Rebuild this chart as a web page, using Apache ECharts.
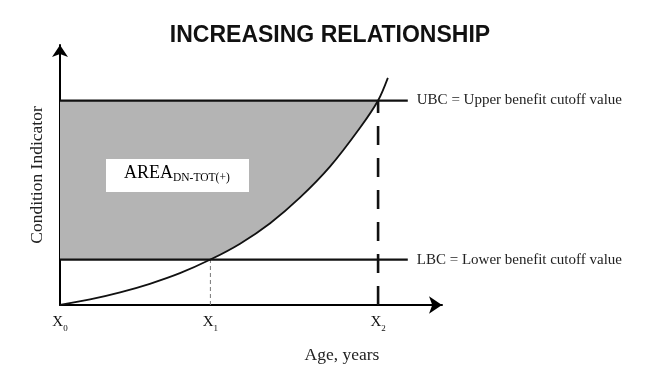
<!DOCTYPE html>
<html><head><meta charset="utf-8">
<script src="https://cdn.jsdelivr.net/npm/echarts@6/dist/echarts.min.js"></script>
<style>html,body{margin:0;padding:0;background:#fff}#c{width:646px;height:369px}</style>
</head><body><div id="c"></div>
<script>
// ---- data (arbitrary units) ----
var titleText = 'INCREASING RELATIONSHIP';
var xAxisName = 'Age, years';
var yAxisName = 'Condition Indicator';
var xTickValues = [0, 40, 84.6];
var xTickMain = ['X', 'X', 'X'];
var xTickSub = ['0', '1', '2'];
var curveX = [0, 8.0, 16.0, 23.9, 31.9, 40, 47.9, 55.9, 63.8, 71.8, 79.8, 84.6, 87.2];
var curveY = [0, 2.2, 5.0, 8.4, 12.6, 18, 24.3, 32.4, 42.5, 54.8, 70.2, 81, 90];
var UBC = 81, LBC = 18;
var cutoffLineEnd = 92.5;
var X1 = 40, X2 = 84.6;
var cutoffLabels = ['UBC = Upper benefit cutoff value', 'LBC = Lower benefit cutoff value'];
var areaMain = 'AREA', areaSub = 'DN-TOT(+)';

var serif = '"Liberation Serif","Times New Roman",serif';
var curve = curveX.map(function (x, i) { return [x, curveY[i]]; });

var chart = echarts.init(document.getElementById('c'));
chart.setOption({
  animation: false,
  backgroundColor: '#fff',
  title: [
    { text: titleText, left: 325, top: 19, textAlign: 'center',
      textStyle: { fontFamily: '"Liberation Sans",Arial,sans-serif', fontWeight: 'bold', fontSize: 23, color: '#111' } },
    { text: xAxisName, left: 337, top: 341, textAlign: 'center',
      textStyle: { fontFamily: serif, fontWeight: 'normal', fontSize: 17.5, color: '#222' } }
  ],
  grid: { left: 60, right: 204, top: 45, bottom: 64 },
  xAxis: {
    type: 'value', min: 0, max: 101.6,
    splitLine: { show: false },
    axisLine: { lineStyle: { color: '#000', width: 2 }, symbol: ['none', 'arrow'], symbolSize: [13, 13] },
    axisTick: { show: false },
    axisLabel: {
      customValues: xTickValues, margin: 7,
      formatter: function (v) {
        var i = xTickValues.indexOf(v);
        if (i < 0) return '';
        return '{m|' + xTickMain[i] + '}{s|' + xTickSub[i] + '}';
      },
      rich: {
        m: { fontFamily: serif, fontSize: 15, color: '#111' },
        s: { fontFamily: serif, fontSize: 9, color: '#111', padding: [12, 0, 0, 0] }
      }
    }
  },
  yAxis: {
    type: 'value', min: 0, max: 103,
    splitLine: { show: false },
    axisLine: { lineStyle: { color: '#000', width: 2 }, symbol: ['none', 'arrow'], symbolSize: [12, 12] },
    axisTick: { show: false },
    axisLabel: { show: false },
    name: yAxisName, nameLocation: 'middle', nameRotate: 90, nameGap: 14,
    nameTextStyle: { fontFamily: serif, fontSize: 17.5, color: '#222' }
  },
  series: [
    {
      type: 'custom', z: 1, silent: true,
      data: [[0, 0]],
      renderItem: function (params, api) {
        var pts = [api.coord([0, LBC]), api.coord([0, UBC]), api.coord([X2, UBC])];
        var mid = curve.filter(function (p) { return p[0] > X1 && p[0] < X2; }).reverse();
        mid.forEach(function (p) { pts.push(api.coord(p)); });
        pts.push(api.coord([X1, LBC]));
        return { type: 'polygon', shape: { points: pts }, style: { fill: '#b4b4b4', stroke: null } };
      }
    },
    {
      type: 'line', z: 3, data: [[0, UBC], [cutoffLineEnd, UBC]], symbol: 'none',
      lineStyle: { color: '#111', width: 2.2 },
      endLabel: { show: true, formatter: cutoffLabels[0], distance: 9, fontFamily: serif, fontSize: 15, color: '#222' }
    },
    {
      type: 'line', z: 3, data: [[0, LBC], [cutoffLineEnd, LBC]], symbol: 'none',
      lineStyle: { color: '#111', width: 2.2 },
      endLabel: { show: true, formatter: cutoffLabels[1], distance: 9, fontFamily: serif, fontSize: 15, color: '#222' }
    },
    {
      type: 'line', z: 4, data: curve, symbol: 'none', smooth: 0.3,
      lineStyle: { color: '#111', width: 1.8 }
    },
    {
      type: 'line', z: 2, data: [[X2, 0], [X2, UBC]], symbol: 'none',
      lineStyle: { color: '#111', width: 2.6, type: [19, 13] }
    },
    {
      type: 'line', z: 2, data: [[X1, 0], [X1, LBC]], symbol: 'none',
      lineStyle: { color: '#777', width: 1, type: [4, 3] }
    }
  ],
  graphic: [
    { type: 'rect', z: 10, shape: { x: 106, y: 159, width: 143, height: 33 }, style: { fill: '#fff' } },
    { type: 'text', z: 11, left: 124, top: 164,
      style: { rich: { a: { fontFamily: serif, fontSize: 18, color: '#111' }, b: { fontFamily: serif, fontSize: 11.5, color: '#111', padding: [9, 0, 0, 0] } },
               text: '{a|' + areaMain + '}{b|' + areaSub + '}' } }
  ]
});
</script></body></html>
